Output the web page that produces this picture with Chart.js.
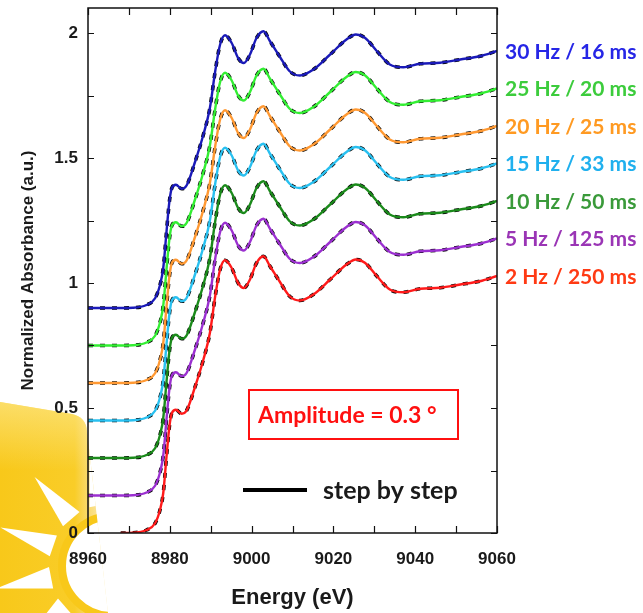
<!DOCTYPE html>
<html>
<head>
<meta charset="utf-8">
<title>Normalized Absorbance vs Energy</title>
<script src="https://cdn.jsdelivr.net/npm/chart.js@4.4.1/dist/chart.umd.min.js"></script>
<style>
  html, body { margin: 0; padding: 0; background: #fff; }
  #spectra { display: block; }
</style>
</head>
<body>
<canvas id="spectra" width="643" height="613"></canvas>
<script>
// Energy grid (eV) and the measured edge spectrum (bottom curve, no offset)
const energy = [8960, 8965, 8968, 8971, 8974.3, 8976.4, 8977.6, 8978.4, 8979.2, 8979.9,
    8980.5, 8981.5, 8982.9, 8984.1, 8986.2, 8988.2, 8989.8, 8991.1, 8992.3, 8993.5,
    8995.1, 8996.7, 8998.1, 8999.6, 9001.2, 9002.9, 9004.5, 9006.9, 9009.3, 9011.8,
    9015.1, 9019.2, 9023.2, 9025.5, 9027.7, 9030.6, 9033.8, 9037.1, 9041.2, 9046.1,
    9051, 9055.8, 9060];
const absorbance = [0, 0, 0, 0.001, 0.012, 0.039, 0.092, 0.16, 0.306, 0.426,
    0.48, 0.493, 0.477, 0.49, 0.586, 0.693, 0.80, 0.947, 1.054, 1.091,
    1.061, 1.0, 0.98, 1.014, 1.08, 1.107, 1.067, 1.005, 0.947, 0.93,
    0.954, 1.014, 1.074, 1.094, 1.081, 1.028, 0.974, 0.963, 0.977, 0.981,
    0.994, 1.007, 1.028];

// One curve per oscillation frequency, stacked with a vertical offset
const seriesLabels = ['2 Hz / 250 ms', '5 Hz / 125 ms', '10 Hz / 50 ms', '15 Hz / 33 ms',
    '20 Hz / 25 ms', '25 Hz / 20 ms', '30 Hz / 16 ms'];
const offsets = [0, 0.15, 0.30, 0.45, 0.60, 0.75, 0.90];
const startEnergy = [8968, 8960, 8960, 8960, 8960, 8960, 8960];
const lineColors = ['#ff1a1a', '#9b30d0', '#1b8a1b', '#29c0f0', '#ff9933', '#33ee33', '#1a1ab8'];
const textColors = ['#ff3a14', '#9a35b5', '#3a9a3a', '#20b0ee', '#ff9a22', '#3ccc3c', '#2626e6'];

const xTicks = [8960, 8980, 9000, 9020, 9040, 9060];
const yTicks = [0, 0.5, 1, 1.5, 2];

function curve(i) {
    const pts = [];
    energy.forEach((e, k) => {
        if (e >= startEnergy[i]) pts.push({ x: e, y: absorbance[k] + offsets[i] });
    });
    return pts;
}

const datasets = [];
seriesLabels.forEach((label, i) => {
    datasets.push({
        label: label,
        data: curve(i),
        borderColor: lineColors[i],
        borderWidth: 2.4,
        order: 0
    });
    // step by step reference, drawn underneath in black
    datasets.push({
        label: label + ' (step by step)',
        data: curve(i),
        borderColor: '#000',
        borderWidth: 3.6,
        borderDash: [5, 7],
        order: 1
    });
});

// yellow sun badge sitting behind the lower left corner
function drawSun(ctx) {
    ctx.save();
    ctx.beginPath();
    ctx.moveTo(0, 402);
    ctx.lineTo(72, 414);
    ctx.quadraticCurveTo(86, 417, 87, 431);
    ctx.lineTo(108, 613);
    ctx.lineTo(0, 613);
    ctx.closePath();
    const g = ctx.createLinearGradient(0, 0, 110, 0);
    g.addColorStop(0, '#f8c81a');
    g.addColorStop(0.68, '#f9cd28');
    g.addColorStop(0.82, '#fadc78');
    g.addColorStop(1, '#fcefc4');
    ctx.fillStyle = g;
    ctx.fill();
    ctx.clip();
    const top = ctx.createLinearGradient(0, 400, 0, 470);
    top.addColorStop(0, 'rgba(255,240,170,0.55)');
    top.addColorStop(1, 'rgba(255,240,170,0)');
    ctx.fillStyle = top;
    ctx.fillRect(0, 400, 110, 70);

    const cx = 112, cy = 566;
    ctx.fillStyle = '#fff';
    for (let k = 0; k < 12; k++) {
        const a = (229 - 30 * k) * Math.PI / 180;
        const w = 10 * Math.PI / 180;
        ctx.beginPath();
        ctx.moveTo(cx + 118 * Math.cos(a), cy + 118 * Math.sin(a));
        ctx.lineTo(cx + 63 * Math.cos(a - w), cy + 63 * Math.sin(a - w));
        ctx.lineTo(cx + 63 * Math.cos(a + w), cy + 63 * Math.sin(a + w));
        ctx.closePath();
        ctx.fill();
    }
    ctx.beginPath();
    ctx.arc(cx, cy, 50, 0, Math.PI * 2);
    ctx.fillStyle = '#fff';
    ctx.fill();
    ctx.lineWidth = 8;
    ctx.strokeStyle = '#f8c81a';
    ctx.stroke();
    ctx.restore();
}

const decorations = {
    id: 'decorations',
    beforeDraw(chart) {
        drawSun(chart.ctx);
    },
    afterDraw(chart) {
        const { ctx, chartArea: a, scales: { x, y } } = chart;
        ctx.save();
        // box frame with inward ticks on all four sides
        ctx.strokeStyle = '#111';
        ctx.lineWidth = 1.5;
        ctx.strokeRect(a.left, a.top, a.right - a.left, a.bottom - a.top);
        ctx.lineWidth = 1.2;
        ctx.beginPath();
        for (let e = 8960; e <= 9060; e += 10) {
            const px = Math.round(x.getPixelForValue(e)) + 0.5;
            ctx.moveTo(px, a.bottom); ctx.lineTo(px, a.bottom - 7);
            ctx.moveTo(px, a.top); ctx.lineTo(px, a.top + 7);
        }
        for (let v = 0; v <= 2; v += 0.25) {
            const py = Math.round(y.getPixelForValue(v)) + 0.5;
            ctx.moveTo(a.left, py); ctx.lineTo(a.left + 6, py);
            ctx.moveTo(a.right, py); ctx.lineTo(a.right - 6, py);
        }
        ctx.stroke();

        // frequency / period labels at the end of each curve
        ctx.font = 'bold 21px Lato';
        ctx.textBaseline = 'middle';
        ctx.textAlign = 'left';
        chart.data.datasets.forEach((ds, i) => {
            if (ds.order !== 0) return;
            const k = i / 2;
            const last = ds.data[ds.data.length - 1];
            ctx.fillStyle = textColors[k];
            ctx.fillText(seriesLabels[k], 505, y.getPixelForValue(last.y) + 1);
        });

        // amplitude box
        ctx.strokeStyle = '#ff1010';
        ctx.lineWidth = 2;
        ctx.strokeRect(249, 390, 209, 49);
        ctx.fillStyle = '#ff1010';
        ctx.font = 'bold 23px Lato';
        ctx.fillText('Amplitude = 0.3 \u00b0', 258, 416);

        // step by step key
        ctx.strokeStyle = '#000';
        ctx.lineWidth = 4;
        ctx.beginPath();
        ctx.moveTo(243, 490); ctx.lineTo(307, 490);
        ctx.stroke();
        ctx.fillStyle = '#1a1a1a';
        ctx.font = 'bold 25px Lato';
        ctx.fillText('step by step', 323, 491);
        ctx.restore();
    }
};

const tickFont = { family: 'Liberation Sans, Arial, sans-serif', size: 17, weight: 'bold' };

new Chart(document.getElementById('spectra').getContext('2d'), {
    type: 'line',
    data: { datasets: datasets },
    options: {
        responsive: false,
        animation: false,
        layout: { padding: { top: 8, right: 146, left: 0, bottom: 0 } },
        plugins: {
            legend: { display: false },
            tooltip: { enabled: false }
        },
        elements: {
            point: { radius: 0 },
            line: { cubicInterpolationMode: 'monotone' }
        },
        scales: {
            x: {
                type: 'linear',
                min: 8960,
                max: 9060,
                afterFit: s => { s.height = 80; s.paddingLeft = 0; s.paddingRight = 0; },
                afterBuildTicks: s => { s.ticks = xTicks.map(v => ({ value: v })); },
                ticks: {
                    autoSkip: false,
                    maxRotation: 0,
                    padding: 16,
                    color: '#1a1a1a',
                    font: tickFont,
                    callback: v => String(v)
                },
                grid: { display: false, drawTicks: false },
                border: { display: false },
                title: {
                    display: true,
                    text: 'Energy (eV)',
                    color: '#1a1a1a',
                    font: { family: 'Liberation Sans, Arial, sans-serif', size: 22, weight: 'bold' },
                    padding: { top: 0, bottom: 2 }
                }
            },
            y: {
                type: 'linear',
                min: 0,
                max: 2.1,
                afterFit: s => { s.width = 88; s.paddingTop = 0; s.paddingBottom = 0; },
                afterBuildTicks: s => { s.ticks = yTicks.map(v => ({ value: v })); },
                ticks: {
                    padding: 10,
                    color: '#1a1a1a',
                    font: tickFont,
                    callback: v => String(v)
                },
                grid: { display: false, drawTicks: false },
                border: { display: false },
                title: {
                    display: true,
                    text: 'Normalized Absorbance (a.u.)',
                    color: '#1a1a1a',
                    font: { family: 'Liberation Sans, Arial, sans-serif', size: 17, weight: 'bold' },
                    padding: { top: 18, bottom: 0 }
                }
            }
        }
    },
    plugins: [decorations]
});
</script>
</body>
</html>
